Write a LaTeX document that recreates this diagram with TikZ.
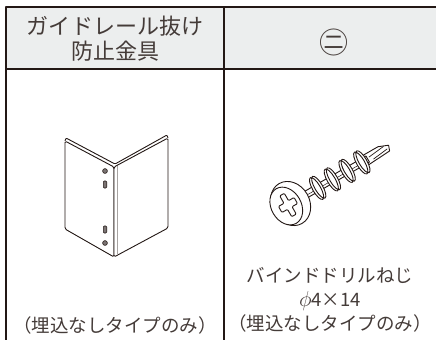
\documentclass[tikz,border=0pt]{standalone}
\usepackage{fontspec}
\setmainfont{Noto Sans CJK JP}
\usetikzlibrary{positioning}
\definecolor{ink}{HTML}{231815}
\definecolor{hdgray}{HTML}{ECEEEE}

\begin{document}
\begin{tikzpicture}[x=1pt,y=-1pt,line join=round,
        grid/.style={draw=ink,line width=1.3pt},
        part/.style={draw=ink,line width=0.9pt,fill=white},
        hole/.style={draw=ink,line width=0.6pt,fill=ink!60},
        head text/.style={text=ink!85,inner sep=0pt,align=center,font=\fontsize{22}{25}\selectfont},
        cap text/.style={text=ink!85,inner sep=0pt,align=center,font=\fontsize{18.5}{24.3}\selectfont}]
    \useasboundingbox (0,0) rectangle (436,340);
    % table
    \fill[hdgray] (6,7) rectangle (436,69);
    \draw[grid] (436,7) -- (6,7) -- (6,340);
    \draw[grid] (6,69) -- (436,69);
    \draw[grid] (224,7) -- (224,340);
    \node[head text] (hd_l) at (115,39) {ガイドレール抜け\\防止金具};
    \node[head text,font=\fontsize{29}{29}\selectfont] (hd_r) at (334,42) {㊁};
    % bracket
    \draw[part,rounded corners=1.5pt] (65,141) -- (114,167) -- (114,257) -- (65,229) -- cycle;
    \draw[part,rounded corners=1.5pt] (114,167) -- (168,138) -- (168,228) -- (114,257) -- cycle;
    \draw[part,rounded corners=1pt] (65,141) -- (66,138) -- (115,164) -- (167,135) -- (168,138);
    \draw[ink!40,line width=0.6pt] (117,166) -- (117,255);
    \draw[hole] (105,171) circle [radius=2.4];
    \draw[hole,rounded corners=1pt] (103.3,181) rectangle (106.7,188);
    \draw[hole,rounded corners=1pt] (103.3,226) rectangle (106.7,233);
    \draw[hole] (105,243) circle [radius=2.4];
    % screw
    \begin{scope}[shift={(288,205)},rotate=30]
        \draw[part] (90,-5.5) -- (107,-5.5) -- (117,-1.5) -- (115,4) -- (90,5.5) -- cycle;
        \draw[ink,line width=0.7pt] (94,-1) -- (112,-3) (97,3) -- (114,1);
        \draw[part] (12,-3.5) rectangle (92,3.5);
        \draw[ink,line width=0.5pt] (14,0.8) -- (90,0.8);
        \foreach \t in {84,67,50,33}
            \draw[part] (\t+2.5,0) ellipse [x radius=4,y radius=12.5]
                        (\t,0) ellipse [x radius=4,y radius=12.5];
        \draw[part] (3,0) ellipse [x radius=19,y radius=23];
        \draw[part] (-2,0) ellipse [x radius=15,y radius=20];
        \draw[part,rounded corners=1pt,xscale=0.75] (-3.5,-12) -- (3.5,-12) -- (3.5,-3.5) -- (12,-3.5) -- (12,3.5)
            -- (3.5,3.5) -- (3.5,12) -- (-3.5,12) -- (-3.5,3.5) -- (-12,3.5) -- (-12,-3.5) -- (-3.5,-3.5) -- cycle;
    \end{scope}
    % captions
    \node[cap text] (cap_l) at (115,325) {（埋込なしタイプのみ）};
    \node[cap text] (cap_r) at (330,300) {バインドドリルねじ\\\scalebox{1.25}{$\phi$}4×14\\（埋込なしタイプのみ）};
\end{tikzpicture}
\end{document}
